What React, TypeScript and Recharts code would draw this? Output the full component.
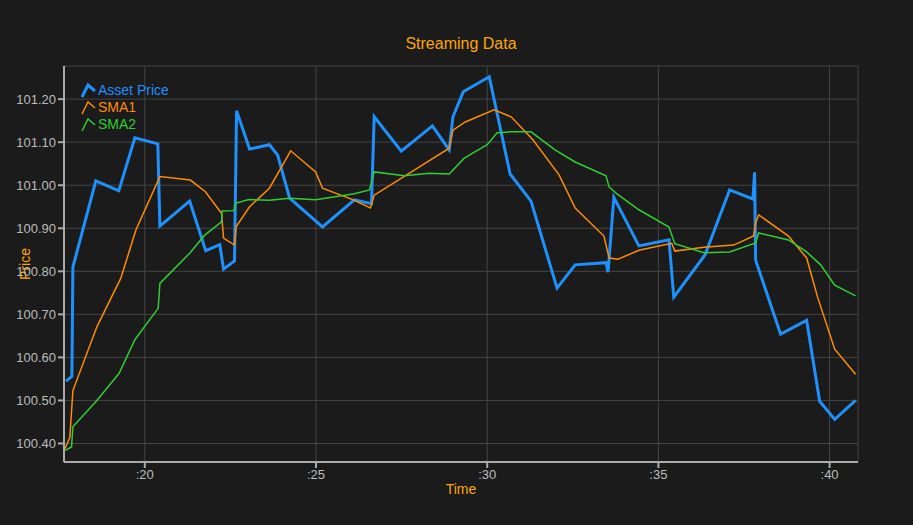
import { LineChart, Line, XAxis, YAxis, CartesianGrid } from 'recharts';

const assetT = [17.7, 17.87, 17.9, 18.57, 19.24, 19.71, 20.38, 20.44, 21.31, 21.78, 22.19, 22.3, 22.62, 22.68, 23.06, 23.64, 23.88, 24.23, 25.19, 26.12, 26.62, 26.7, 27.49, 28.4, 28.89, 29.0, 29.3, 30.06, 30.67, 31.28, 32.04, 32.57, 33.47, 33.53, 33.7, 34.43, 35.31, 35.45, 36.36, 37.08, 37.76, 37.81, 37.84, 38.57, 39.33, 39.71, 40.15, 40.76];
const assetV = [100.545, 100.556, 100.81, 101.01, 100.987, 101.11, 101.096, 100.905, 100.963, 100.848, 100.862, 100.805, 100.824, 101.173, 101.084, 101.094, 101.07, 100.97, 100.903, 100.966, 100.957, 101.159, 101.079, 101.138, 101.082, 101.159, 101.217, 101.252, 101.026, 100.963, 100.761, 100.815, 100.82, 100.798, 100.972, 100.859, 100.873, 100.74, 100.838, 100.989, 100.968, 101.03, 100.826, 100.654, 100.686, 100.498, 100.456, 100.5];

const sma1T = [17.64, 17.81, 17.9, 18.6, 19.3, 19.74, 20.44, 21.33, 21.77, 22.24, 22.3, 22.62, 22.67, 23.06, 23.64, 24.26, 24.99, 25.19, 26.09, 26.59, 26.7, 27.87, 28.89, 29.0, 29.36, 30.2, 30.7, 31.34, 32.1, 32.57, 33.41, 33.56, 33.82, 34.43, 35.39, 35.48, 36.33, 37.2, 37.78, 37.84, 37.93, 38.8, 39.33, 39.65, 40.15, 40.76];
const sma1V = [100.383, 100.414, 100.523, 100.671, 100.784, 100.896, 101.02, 101.012, 100.985, 100.935, 100.877, 100.861, 100.904, 100.95, 100.993, 101.08, 101.031, 100.993, 100.966, 100.947, 100.977, 101.035, 101.086, 101.128, 101.147, 101.175, 101.159, 101.105, 101.024, 100.947, 100.882, 100.831, 100.828, 100.849, 100.865, 100.847, 100.856, 100.861, 100.882, 100.912, 100.931, 100.882, 100.831, 100.74, 100.619, 100.561];

const sma2T = [17.68, 17.86, 17.9, 18.6, 19.25, 19.71, 20.39, 20.44, 21.31, 21.75, 22.24, 22.26, 22.6, 22.65, 23.04, 23.64, 24.23, 24.99, 26.12, 26.56, 26.7, 27.58, 28.31, 28.89, 29.33, 30.0, 30.29, 30.7, 31.28, 31.98, 32.57, 33.47, 33.56, 33.79, 34.43, 35.31, 35.48, 36.33, 37.08, 37.84, 37.93, 38.8, 39.33, 39.74, 40.15, 40.76];
const sma2V = [100.384, 100.392, 100.439, 100.5, 100.563, 100.641, 100.714, 100.772, 100.842, 100.884, 100.915, 100.94, 100.941, 100.958, 100.967, 100.965, 100.97, 100.966, 100.98, 100.989, 101.031, 101.022, 101.028, 101.026, 101.063, 101.094, 101.122, 101.124, 101.124, 101.082, 101.054, 101.022, 100.996, 100.98, 100.943, 100.903, 100.864, 100.843, 100.845, 100.866, 100.889, 100.873, 100.845, 100.815, 100.768, 100.743];

const xTicks = [20, 25, 30, 35, 40];
const yTicks = [100.4, 100.5, 100.6, 100.7, 100.8, 100.9, 101.0, 101.1, 101.2];

const zip = (t: number[], v: number[]) => t.map((x, i) => ({ t: x, v: v[i] }));
const asset = zip(assetT, assetV);
const sma1 = zip(sma1T, sma1V);
const sma2 = zip(sma2T, sma2V);

const legendItems = [
  { name: 'Asset Price', color: '#1e90ff', width: 3 },
  { name: 'SMA1', color: '#ff8c00', width: 1.5 },
  { name: 'SMA2', color: '#32cd32', width: 1.5 },
];

function LegendBox() {
  return (
    <div style={{ position: 'absolute', left: 80, top: 82, lineHeight: '17px', fontSize: 14 }}>
      {legendItems.map((it) => (
        <div key={it.name} style={{ display: 'flex', alignItems: 'center', color: it.color }}>
          <svg width={18} height={17}>
            <polyline points="2,15 8,3 15,9" fill="none" stroke={it.color} strokeWidth={it.width} />
          </svg>
          <span>{it.name}</span>
        </div>
      ))}
    </div>
  );
}

export default function App() {
  const tick = { fill: '#bbbbbb', fontSize: 13 };
  return (
    <div style={{ position: 'fixed', left: 0, top: 0, width: 913, height: 525, background: '#1b1b1b', fontFamily: '"Liberation Sans", Arial, sans-serif' }}>
      <div style={{ position: 'absolute', top: 35, width: 922, textAlign: 'center', color: '#ffa500', fontSize: 16 }}>Streaming Data</div>
      <div style={{ position: 'absolute', top: 481, left: 0, width: 922, textAlign: 'center', color: '#ffa500', fontSize: 14 }}>Time</div>
      <div style={{ position: 'absolute', left: 25, top: 264, color: '#ffa500', fontSize: 14, transform: 'translate(-50%,-50%) rotate(-90deg)' }}>Price</div>
      <LineChart width={913} height={525} data={asset} margin={{ top: 66, right: 55, bottom: 0, left: 0 }}>
        <CartesianGrid stroke="#444444" />
        <XAxis
          dataKey="t"
          type="number"
          domain={[17.64, 40.83]}
          ticks={xTicks}
          allowDataOverflow
          tickFormatter={(v) => ':' + v}
          tick={tick}
          stroke="#aaaaaa"
          strokeWidth={2}
          height={63}
        />
        <YAxis
          dataKey="v"
          type="number"
          domain={[100.357, 101.277]}
          ticks={yTicks}
          allowDataOverflow
          tickFormatter={(v) => v.toFixed(2)}
          tick={tick}
          stroke="#aaaaaa"
          strokeWidth={2}
          width={64}
        />
        <Line data={asset} dataKey="v" stroke="#1e90ff" strokeWidth={3} dot={false} isAnimationActive={false} />
        <Line data={sma1} dataKey="v" stroke="#ff8c00" strokeWidth={1.5} dot={false} isAnimationActive={false} />
        <Line data={sma2} dataKey="v" stroke="#32cd32" strokeWidth={1.5} dot={false} isAnimationActive={false} />
      </LineChart>
      <LegendBox />
    </div>
  );
}
